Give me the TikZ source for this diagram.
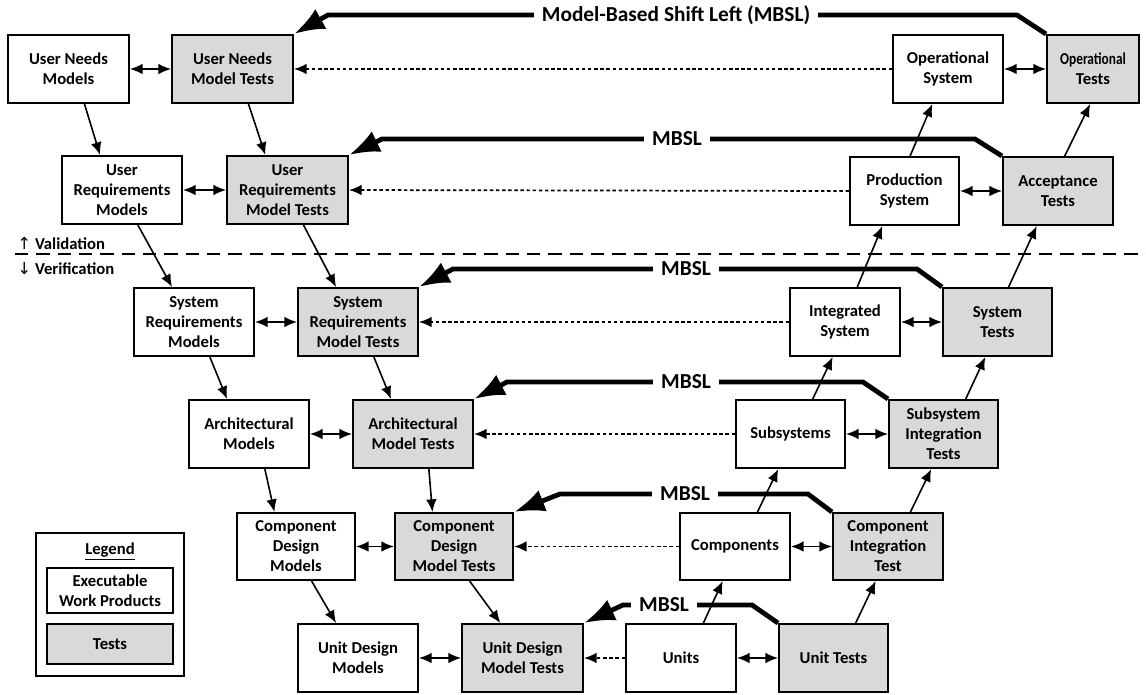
\documentclass[tikz,border=0pt]{standalone}
\usepackage{fontspec}
\setmainfont{Carlito}
\newfontfamily\dvfont{DejaVu Sans}
\usetikzlibrary{arrows.meta,calc}
\definecolor{tgray}{HTML}{D9D9D9}
\newcommand\bx[7]{\node[#7, minimum width={(#4-#2)*0.75pt}, minimum height={(#5-#3)*0.75pt}] (#1) at ({(#2+#4)/2},{(#3+#5)/2}) {#6};}
\newcommand\bt[2]{($(#1.south west)!#2!(#1.south east)$)}
\newcommand\tp[2]{($(#1.north west)!#2!(#1.north east)$)}
\tikzset{
 wp/.style={draw, line width=1.5pt, fill=white, align=center, inner sep=0pt, font=\bfseries\fontsize{12.5}{15}\selectfont},
 tst/.style={wp, fill=tgray},
 thinarr/.style={line width=1.2pt, -{Latex[length=9.5pt,width=8pt]}},
 dblarr/.style={line width=1.2pt, {Latex[length=9.5pt,width=8pt]}-{Latex[length=9.5pt,width=8pt]}},
 dotarr/.style={line width=1.3pt, dash pattern=on 2.6pt off 2pt, -{Latex[length=9.5pt,width=8pt]}},
 mbsl/.style={line width=3.6pt, line join=miter, -{Latex[length=23pt,width=17pt]}},
 mbsltext/.style={fill=white, font=\bfseries\fontsize{16}{19}\selectfont, inner xsep=6pt, inner ysep=1pt},
 valline/.style={line width=1.5pt, dash pattern=on 10pt off 6pt},
 vtext/.style={anchor=west, inner sep=0pt, font=\bfseries\fontsize{12.5}{15}\selectfont}
}
\begin{document}
\begin{tikzpicture}[x=0.75pt,y=-0.75pt]
\useasboundingbox (0,0) rectangle (1146,694);
% validation line
\coordinate (vl) at (15,254);
\coordinate (vr) at (1146,254);
\draw[valline] (vl) -- (vr);
\node[vtext] (val) at (17,243) {{\dvfont\mdseries ↑} Validation};
\node[vtext] (ver) at (17,268) {{\dvfont\mdseries ↓} Verification};
% row 1
\bx{unm}{8}{35}{129}{103}{User Needs\\Models}{wp}
\bx{unmt}{172}{35}{293}{103}{User Needs\\Model Tests}{tst}
\bx{os}{893}{35}{1003}{103}{Operational\\System}{wp}
\bx{ot}{1047}{35}{1139}{103}{\scalebox{0.8}[1]{Operational}\\Tests}{tst}
% row 2
\bx{urm}{62}{156}{182}{224}{User\\Requirements\\Models}{wp}
\bx{urmt}{227}{156}{348}{224}{User\\Requirements\\Model Tests}{tst}
\bx{ps}{850}{157}{959}{225}{Production\\System}{wp}
\bx{acc}{1003}{157}{1113}{225}{Acceptance\\Tests}{tst}
% row 3
\bx{srm}{134}{288}{254}{356}{System\\Requirements\\Models}{wp}
\bx{srmt}{298}{288}{418}{356}{System\\Requirements\\Model Tests}{tst}
\bx{ints}{790}{288}{900}{356}{Integrated\\System}{wp}
\bx{st}{943}{288}{1052}{356}{System\\Tests}{tst}
% row 4
\bx{am}{189}{400}{309}{468}{Architectural\\Models}{wp}
\bx{amt}{353}{400}{473}{468}{Architectural\\Model Tests}{tst}
\bx{ss}{736}{400}{845}{468}{Subsystems}{wp}
\bx{sit}{889}{400}{998}{468}{Subsystem\\Integration\\Tests}{tst}
% row 5
\bx{cdm}{237}{513}{355}{580}{Component\\Design\\Models}{wp}
\bx{cdmt}{395}{513}{513}{580}{Component\\Design\\Model Tests}{tst}
\bx{cmp}{680}{513}{790}{580}{Components}{wp}
\bx{cit}{833}{513}{943}{580}{Component\\Integration\\Test}{tst}
% row 6
\bx{udm}{298}{624}{418}{692}{Unit Design\\Models}{wp}
\bx{udmt}{462}{624}{583}{692}{Unit Design\\Model Tests}{tst}
\bx{un}{626}{624}{736}{692}{Units}{wp}
\bx{ut}{779}{624}{888}{692}{Unit Tests}{tst}
% legend
\bx{leg}{36}{533}{184}{676}{}{wp}
\node[font=\bfseries\fontsize{12.5}{15}\selectfont] (legt) at (110,551) {\underline{Legend}};
\bx{lexe}{47}{568}{173}{613}{Executable\\Work Products}{wp}
\bx{ltst}{47}{624}{173}{664}{Tests}{tst}
% double arrows
\foreach \a/\b in {unm/unmt,os/ot,urm/urmt,ps/acc,srm/srmt,ints/st,am/amt,ss/sit,cdm/cdmt,cmp/cit,udm/udmt,un/ut}
  \draw[dblarr] (\a.east) -- (\b.west);
% dotted arrows
\foreach \a/\b in {os/unmt,ps/urmt,ints/srmt,ss/amt,cmp/cdmt,un/udmt}
  \draw[dotarr] (\a.west) -- (\b.east);
% left diagonals
\foreach \a/\b in {unm/urm,unmt/urmt,urm/srm,urmt/srmt,srm/am,srmt/amt,am/cdm,amt/cdmt,cdm/udm,cdmt/udmt}
  \draw[thinarr] \bt{\a}{0.63} -- \tp{\b}{0.32};
% right up arrows
\draw[thinarr] \tp{ps}{0.55} -- \bt{os}{0.36};
\draw[thinarr] \tp{acc}{0.56} -- \bt{ot}{0.47};
\draw[thinarr] \tp{ints}{0.61} -- \bt{ps}{0.30};
\draw[thinarr] \tp{st}{0.60} -- \bt{acc}{0.31};
\foreach \a/\b in {ss/ints,sit/st,cmp/ss,cit/sit,un/cmp,ut/cit}
  \draw[thinarr] \tp{\a}{0.70} -- \bt{\b}{0.39};
% MBSL arrows
\draw[mbsl] (ot.north west) -- (1017,15) -- (328,15) -- (unmt.north east);
\node[mbsltext] (m1) at (676,15) {Model-Based Shift Left (MBSL)};
\draw[mbsl] (acc.north west) -- (975,139) -- (382,139) -- (urmt.north east);
\node[mbsltext] (m2) at (677,139) {MBSL};
\draw[mbsl] (st.north west) -- (917,269) -- (453,269) -- (srmt.north east);
\node[mbsltext] (m3) at (686,269) {MBSL};
\draw[mbsl] (sit.north west) -- (863,382) -- (507,382) -- (amt.north east);
\node[mbsltext] (m4) at (686,382) {MBSL};
\draw[mbsl] (cit.north west) -- (808,494) -- (560,494) -- (cdmt.north east);
\node[mbsltext] (m5) at (685,494) {MBSL};
\draw[mbsl] (ut.north west) -- (752,605) -- (623,605) -- (udmt.north east);
\node[mbsltext] (m6) at (664,605) {MBSL};
\end{tikzpicture}
\end{document}
